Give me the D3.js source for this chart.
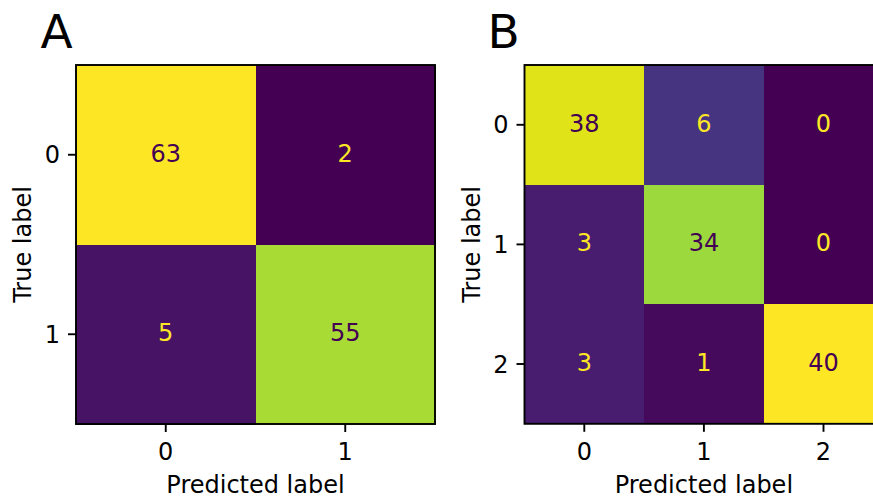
<!DOCTYPE html>
<html>
<head>
<meta charset="utf-8">
<script src="https://cdn.jsdelivr.net/npm/d3@7"></script>
<style>
  html, body { margin: 0; padding: 0; background: #fff; }
  svg { display: block; font-family: "DejaVu Sans", sans-serif; }
</style>
</head>
<body>
<svg id="chart" width="873" height="497"></svg>
<script>
// Confusion matrix A (binary classifier)
const labelsA = ["0", "1"];
const matrixA = [
  [63, 2],
  [5, 55]
];

// Confusion matrix B (three-class classifier)
const labelsB = ["0", "1", "2"];
const matrixB = [
  [38, 6, 0],
  [3, 34, 0],
  [3, 1, 40]
];

const panelTitles = ["A", "B"];
const xAxisTitle = "Predicted label";
const yAxisTitle = "True label";

const svg = d3.select("#chart");
const fontSize = 24;
const tickLen = 8;
const lineW = 1.9;

function drawMatrix(opts) {
  const { labels, matrix, title, x0, y0, size, titleX } = opts;
  const g = svg.append("g");

  const x = d3.scaleBand().domain(labels).range([x0, x0 + size]);
  const y = d3.scaleBand().domain(labels).range([y0, y0 + size]);

  const flat = matrix.flat();
  const vmin = d3.min(flat), vmax = d3.max(flat);
  const color = d3.scaleSequential(d3.interpolateViridis).domain([vmin, vmax]);
  const thresh = (vmin + vmax) / 2;

  const cells = [];
  matrix.forEach((row, i) => row.forEach((v, j) => cells.push({ t: labels[i], p: labels[j], v })));

  g.selectAll("rect.cell").data(cells).join("rect")
    .attr("class", "cell")
    .attr("x", d => x(d.p))
    .attr("y", d => y(d.t))
    .attr("width", x.bandwidth() + 0.5)
    .attr("height", y.bandwidth() + 0.5)
    .attr("shape-rendering", "crispEdges")
    .attr("fill", d => color(d.v));

  g.selectAll("text.val").data(cells).join("text")
    .attr("class", "val")
    .attr("x", d => x(d.p) + x.bandwidth() / 2)
    .attr("y", d => y(d.t) + y.bandwidth() / 2 + 7)
    .attr("text-anchor", "middle")
    .attr("font-size", fontSize)
    .attr("fill", d => d.v < thresh ? d3.interpolateViridis(1) : d3.interpolateViridis(0))
    .text(d => d.v);

  // Frame
  g.append("rect")
    .attr("x", x0).attr("y", y0)
    .attr("width", size).attr("height", size)
    .attr("fill", "none")
    .attr("stroke", "#000")
    .attr("stroke-width", lineW);

  // Bottom axis
  const xAxis = d3.axisBottom(x).tickSize(tickLen).tickPadding(8);
  const gx = g.append("g").attr("transform", `translate(0,${y0 + size})`).call(xAxis);
  gx.select(".domain").remove();
  gx.selectAll(".tick line").attr("stroke", "#000").attr("stroke-width", lineW);
  gx.selectAll(".tick text")
    .attr("font-size", fontSize)
    .attr("font-family", "DejaVu Sans, sans-serif")
    .attr("fill", "#000")
    .attr("dy", null)
    .attr("y", 460 - (y0 + size));

  // Left axis
  const yAxis = d3.axisLeft(y).tickSize(tickLen).tickPadding(8);
  const gy = g.append("g").attr("transform", `translate(${x0},0)`).call(yAxis);
  gy.select(".domain").remove();
  gy.selectAll(".tick line").attr("stroke", "#000").attr("stroke-width", lineW);
  gy.selectAll(".tick text")
    .attr("font-size", fontSize)
    .attr("font-family", "DejaVu Sans, sans-serif")
    .attr("fill", "#000")
    .attr("dy", "0.36em");

  // Axis titles
  g.append("text")
    .attr("x", x0 + size / 2)
    .attr("y", 492.5)
    .attr("text-anchor", "middle")
    .attr("font-size", fontSize)
    .attr("fill", "#000")
    .text(xAxisTitle);

  g.append("text")
    .attr("transform", `translate(${x0 - 45},${y0 + size / 2}) rotate(-90)`)
    .attr("text-anchor", "middle")
    .attr("font-size", fontSize)
    .attr("fill", "#000")
    .text(yAxisTitle);

  // Panel letter
  g.append("text")
    .attr("x", titleX)
    .attr("y", 47.5)
    .attr("font-size", 47)
    .attr("fill", "#000")
    .text(title);
}

drawMatrix({ labels: labelsA, matrix: matrixA, title: panelTitles[0], x0: 76, y0: 65, size: 359, titleX: 40.5 });
drawMatrix({ labels: labelsB, matrix: matrixB, title: panelTitles[1], x0: 524.5, y0: 65, size: 358.8, titleX: 487.5 });
</script>
</body>
</html>
